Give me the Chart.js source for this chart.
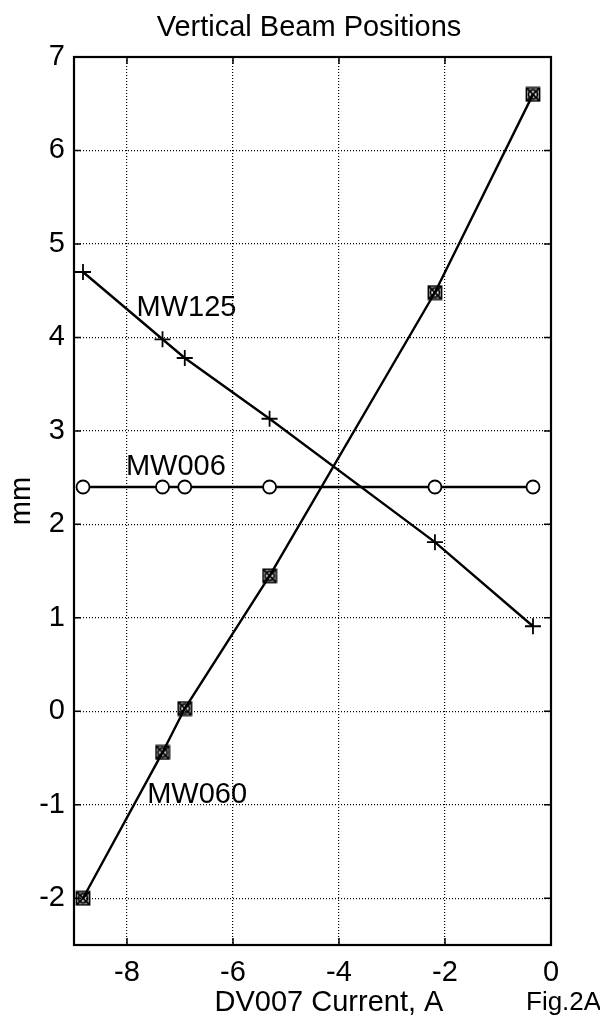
<!DOCTYPE html>
<html>
<head>
    <meta charset="utf-8">
    <title>Vertical Beam Positions</title>
    <script src="https://cdn.jsdelivr.net/npm/chart.js@4/dist/chart.umd.min.js"></script>
    <style>
        html, body { margin: 0; padding: 0; background: #fff; }
        #chart { display: block; }
    </style>
</head>
<body>
    <canvas id="chart" width="600" height="1029"></canvas>
    <script>
        // DV007 current (A) and measured vertical positions (mm)
        var currentA = [-8.83, -7.33, -6.91, -5.31, -2.19, -0.34];
        var mw060 = [-2.0, -0.44, 0.03, 1.45, 4.48, 6.6];
        var mw125 = [4.7, 3.98, 3.78, 3.13, 1.81, 0.91];
        var mw006 = [2.4, 2.4, 2.4, 2.4, 2.4, 2.4];

        var xTicks = [-8, -6, -4, -2, 0];
        var yTicks = [-2, -1, 0, 1, 2, 3, 4, 5, 6, 7];

        // name labels next to the curves, in data units
        var seriesNames = ['MW125', 'MW006', 'MW060'];
        var nameX = [-7.82, -8.02, -7.62];
        var nameY = [4.32, 2.61, -0.9];

        var FONT = '"Liberation Sans", Arial, sans-serif';
        var INK = '#000';

        function pts(ys) {
            return currentA.map(function (x, i) { return { x: x, y: ys[i] }; });
        }

        // square + x + circle marker used for MW060
        function boxMarker() {
            var cv = document.createElement('canvas');
            cv.width = 16; cv.height = 16;
            var g = cv.getContext('2d');
            g.strokeStyle = INK;
            g.lineWidth = 1.8;
            g.strokeRect(1.5, 1.5, 13, 13);
            g.beginPath();
            g.moveTo(2, 2); g.lineTo(14, 14);
            g.moveTo(14, 2); g.lineTo(2, 14);
            g.stroke();
            g.beginPath();
            g.arc(8, 8, 4.5, 0, Math.PI * 2);
            g.stroke();
            return cv;
        }

        var frame = {
            id: 'frame',
            beforeDatasetsDraw: function (chart) {
                var ctx = chart.ctx, a = chart.chartArea;
                var xs = chart.scales.x, ys = chart.scales.y;
                ctx.save();
                ctx.strokeStyle = INK;
                ctx.lineWidth = 2.2;
                ctx.strokeRect(a.left, a.top, a.right - a.left, a.bottom - a.top);
                ctx.lineWidth = 1.5;
                ctx.beginPath();
                xTicks.forEach(function (v) {
                    var p = xs.getPixelForValue(v);
                    ctx.moveTo(p, a.bottom); ctx.lineTo(p, a.bottom - 7);
                    ctx.moveTo(p, a.top); ctx.lineTo(p, a.top + 7);
                });
                yTicks.forEach(function (v) {
                    var p = ys.getPixelForValue(v);
                    ctx.moveTo(a.left, p); ctx.lineTo(a.left + 7, p);
                    ctx.moveTo(a.right, p); ctx.lineTo(a.right - 7, p);
                });
                ctx.stroke();
                ctx.restore();
            },
            afterDraw: function (chart) {
                var ctx = chart.ctx, a = chart.chartArea;
                var xs = chart.scales.x, ys = chart.scales.y;
                ctx.save();
                ctx.fillStyle = INK;
                ctx.textBaseline = 'middle';

                ctx.font = '29px ' + FONT;
                ctx.textAlign = 'center';
                ctx.fillText('Vertical Beam Positions', 309, 28);

                ctx.font = '29px ' + FONT;
                ctx.fillText('DV007 Current, A', 329, 1003);

                ctx.textAlign = 'left';
                ctx.font = '26px ' + FONT;
                ctx.fillText('Fig.2A', 526, 1003);

                ctx.font = '29px ' + FONT;
                seriesNames.forEach(function (n, i) {
                    ctx.fillText(n, xs.getPixelForValue(nameX[i]), ys.getPixelForValue(nameY[i]));
                });

                ctx.translate(22, (a.top + a.bottom) / 2);
                ctx.rotate(-Math.PI / 2);
                ctx.textAlign = 'center';
                ctx.fillText('mm', 0, 0);
                ctx.restore();
            }
        };

        var gridStyle = {
            color: INK,
            lineWidth: 1.2,
            drawTicks: false
        };

        new Chart(document.getElementById('chart'), {
            type: 'scatter',
            data: {
                datasets: [
                    {
                        label: 'MW060',
                        data: pts(mw060),
                        showLine: true,
                        borderColor: INK,
                        borderWidth: 2.4,
                        pointStyle: boxMarker(),
                        pointRadius: 8
                    },
                    {
                        label: 'MW125',
                        data: pts(mw125),
                        showLine: true,
                        borderColor: INK,
                        borderWidth: 2.4,
                        pointStyle: 'cross',
                        pointRadius: 8,
                        pointBorderWidth: 1.8,
                        pointBorderColor: INK
                    },
                    {
                        label: 'MW006',
                        data: pts(mw006),
                        showLine: true,
                        borderColor: INK,
                        borderWidth: 2.4,
                        pointStyle: 'circle',
                        pointRadius: 6.5,
                        pointBorderWidth: 1.8,
                        pointBorderColor: INK,
                        pointBackgroundColor: '#fff'
                    }
                ]
            },
            options: {
                responsive: false,
                animation: false,
                devicePixelRatio: 1,
                layout: { padding: { top: 57, right: 49, left: 0, bottom: 0 } },
                plugins: {
                    legend: { display: false },
                    tooltip: { enabled: false }
                },
                scales: {
                    x: {
                        type: 'linear',
                        min: -9,
                        max: 0,
                        afterBuildTicks: function (s) {
                            s.ticks = xTicks.map(function (v) { return { value: v }; });
                        },
                        afterFit: function (s) { s.height = 84; },
                        border: { display: false, dash: [1, 2] },
                        grid: Object.assign({}, gridStyle),
                        ticks: {
                            color: INK,
                            padding: 11,
                            maxRotation: 0,
                            font: { family: FONT, size: 29 }
                        }
                    },
                    y: {
                        type: 'linear',
                        min: -2.5,
                        max: 7,
                        afterBuildTicks: function (s) {
                            s.ticks = yTicks.map(function (v) { return { value: v }; });
                        },
                        afterFit: function (s) { s.width = 74; },
                        border: { display: false, dash: [1, 2] },
                        grid: Object.assign({}, gridStyle),
                        ticks: {
                            color: INK,
                            padding: 9,
                            font: { family: FONT, size: 29 }
                        }
                    }
                }
            },
            plugins: [frame]
        });
    </script>
</body>
</html>
